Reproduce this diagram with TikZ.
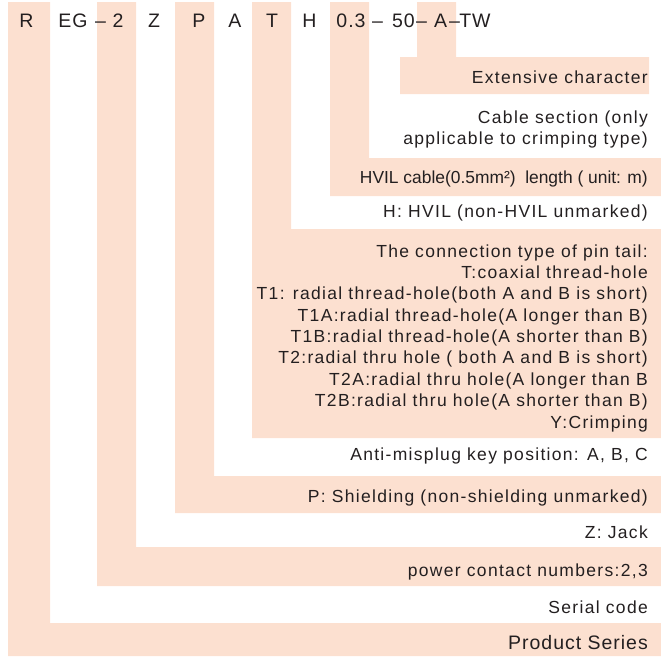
\documentclass[tikz,border=0pt]{standalone}
\usepackage{fontspec}
\setmainfont{Liberation Sans}
\newfontfamily\lsfont[LetterSpace=7.5]{Liberation Sans}
\newfontfamily\lsfontb[LetterSpace=5]{Liberation Sans}
\definecolor{peach}{RGB}{252,224,208}
\definecolor{ink}{RGB}{35,31,32}
\begin{document}
\begin{tikzpicture}[x=1pt,y=-1pt,
  band/.style={fill=peach, draw=none},
  lbl/.style={anchor=base east, inner sep=0pt, text=ink, font=\lsfont\fontsize{17.5}{20}\selectfont},
  lblplain/.style={anchor=base east, inner sep=0pt, text=ink, font=\fontsize{17.4}{20}\selectfont},
  lblbig/.style={anchor=base east, inner sep=0pt, text=ink, font=\lsfontb\fontsize{19.5}{22}\selectfont},
  code/.style={anchor=base, inner sep=0pt, text=ink, font=\lsfontb\fontsize{19.5}{22}\selectfont}]
\useasboundingbox (0,0) rectangle (661,656);
% bands
\fill[band] (8,2) -- (50,2) -- (50,623) -- (661,623) -- (661,656) -- (8,656) -- cycle;
\fill[band] (97,2) -- (136,2) -- (136,547) -- (661,547) -- (661,586) -- (97,586) -- cycle;
\fill[band] (175,2) -- (214,2) -- (214,476) -- (661,476) -- (661,513) -- (175,513) -- cycle;
\fill[band] (252,2) -- (291,2) -- (291,229) -- (661,229) -- (661,438) -- (252,438) -- cycle;
\fill[band] (330,2) -- (369,2) -- (369,158) -- (661,158) -- (661,196) -- (330,196) -- cycle;
\fill[band] (417,2) -- (456,2) -- (456,57) -- (649,57) -- (649,94) -- (400,94) -- (400,57) -- (417,57) -- cycle;
% code row
\node[code] (cR) at (26.5,27) {R};
\node[code] (cEG) at (73,27) {EG};
\node[code] (cd1) at (100.5,27) {–};
\node[code] (c2) at (118,27) {2};
\node[code] (cZ) at (154,27) {Z};
\node[code] (cP) at (199,27) {P};
\node[code] (cA) at (235,27) {A};
\node[code] (cT) at (272,27) {T};
\node[code] (cH) at (309.5,27) {H};
\node[code] (c03) at (351,27) {0.3};
\node[code] (cd2) at (377.5,27) {–};
\node[code] (c50) at (403.5,27) {50};
\node[code] (cd3) at (421.5,27) {–};
\node[code] (cA2) at (440.5,27) {A};
\node[code] (cd4) at (454.5,27) {–};
\node[code] (cTW) at (475,27) {TW};
% labels
\node[lbl] (ext) at (648,83) {Extensive character};
\node[lbl] (cab1) at (648,123) {Cable section (only};
\node[lbl] (cab2) at (648,144) {applicable to crimping type)};
\node[lblplain] (hvilc) at (648,183) {HVIL cable(0.5mm²)\ \ length ( unit: m)};
\node[lbl] (hvil) at (648,217) {H: HVIL (non-HVIL unmarked)};
\foreach \i/\t in {0/{The connection type of pin tail:},
                   1/{T:coaxial thread-hole},
                   2/{T1: radial thread-hole(both A and B is short)},
                   3/{T1A:radial thread-hole(A longer than B)},
                   4/{T1B:radial thread-hole(A shorter than B)},
                   5/{T2:radial thru hole ( both A and B is short)},
                   6/{T2A:radial thru hole(A longer than B},
                   7/{T2B:radial thru hole(A shorter than B)},
                   8/{Y:Crimping}}
  \node[lbl] (pin\i) at (648,{257+21.375*\i}) {\t};
\node[lbl] (key) at (648,460) {Anti-misplug key position: A, B, C};
\node[lbl] (shield) at (648,502) {P: Shielding (non-shielding unmarked)};
\node[lbl] (jack) at (648,538) {Z: Jack};
\node[lbl] (power) at (648,576) {power contact numbers:2,3};
\node[lbl] (serial) at (648,613) {Serial code};
\node[lblbig] (series) at (648,649) {Product Series};
\end{tikzpicture}
\end{document}
